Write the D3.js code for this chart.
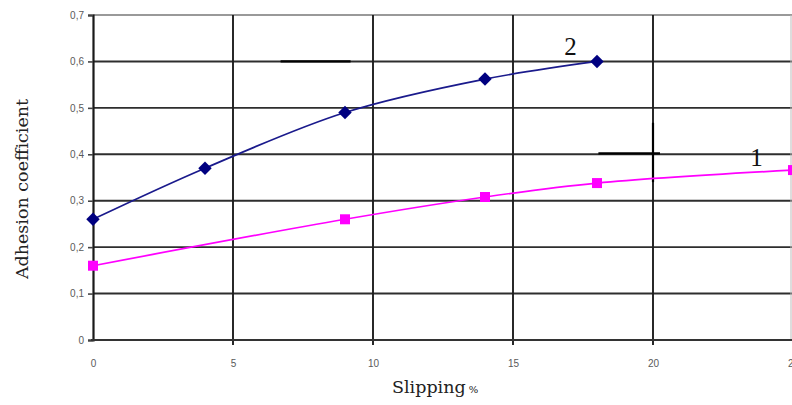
<!DOCTYPE html>
<html><head><meta charset="utf-8">
<script src="https://cdn.jsdelivr.net/npm/d3@7"></script>
<style>body{margin:0;background:#fff}svg{display:block}</style>
</head><body>
<svg id="c" width="792" height="405"></svg>
<script>
const xTicks = [0, 5, 10, 15, 20, 25];
const yTicks = [0, 0.1, 0.2, 0.3, 0.4, 0.5, 0.6, 0.7];
const slip2 = [0, 4, 9, 14, 18];
const adh2 = [0.26, 0.37, 0.49, 0.562, 0.60];
const slip1 = [0, 9, 14, 18, 25];
const adh1 = [0.16, 0.26, 0.308, 0.338, 0.366];
const seriesLabels = ["1", "2"];

const svg = d3.select("#c");
const x = d3.scaleLinear().domain([0, 25]).range([93, 793]);
const y = d3.scaleLinear().domain([0, 0.7]).range([340, 15]);
const fmt = d => d3.format(".1f")(d).replace(".", ",").replace(/^0,0$/, "0");

// horizontal grid
svg.append("g").selectAll("line").data(yTicks).join("line")
  .attr("x1", x(0)).attr("x2", 792)
  .attr("y1", d => y(d)).attr("y2", d => y(d))
  .attr("stroke", d => d === 0.7 ? "#999" : "#2e2e2e")
  .attr("stroke-width", d => d === 0.7 ? 2 : 1.9);
// vertical grid
svg.append("g").selectAll("line").data(xTicks.filter(d => d > 0 && d < 25)).join("line")
  .attr("x1", d => x(d)).attr("x2", d => x(d))
  .attr("y1", y(0.7)).attr("y2", y(0) + 5)
  .attr("stroke", "#1e1e1e").attr("stroke-width", 1.9);
// right border
svg.append("line").attr("x1", 791).attr("x2", 791).attr("y1", y(0.7)).attr("y2", y(0))
  .attr("stroke", "#bbb").attr("stroke-width", 1);

// axes
const yAxis = d3.axisLeft(y).tickValues(yTicks).tickSize(5).tickFormat(fmt);
const gy = svg.append("g").attr("transform", `translate(${x(0)},0)`).call(yAxis);
gy.select(".domain").attr("stroke", "#1a1a1a").attr("stroke-width", 2.2);
gy.selectAll(".tick line").attr("stroke", "#444").attr("stroke-width", 1.6);
gy.selectAll("text").attr("fill", "#5a5a5a").attr("font-family", "Liberation Sans, Arial, sans-serif")
  .attr("font-size", 10).attr("x", -9);

const xAxis = d3.axisBottom(x).tickValues(xTicks).tickSize(0).tickFormat(d => d);
const gx = svg.append("g").attr("transform", `translate(0,${y(0)})`).call(xAxis);
gx.select(".domain").remove();
gx.selectAll("text").attr("fill", "#5a5a5a").attr("font-family", "Liberation Sans, Arial, sans-serif")
  .attr("font-size", 10).attr("y", 20);
svg.append("line").attr("x1", x(0) - 2).attr("x2", 792).attr("y1", y(0)).attr("y2", y(0))
  .attr("stroke", "#333").attr("stroke-width", 2.2);

// extra black marks
const marks = [
  {x1: 6.7, x2: 9.2, y1: 0.6, y2: 0.6},
  {x1: 18.05, x2: 20.25, y1: 0.402, y2: 0.402},
  {x1: 20, x2: 20, y1: 0.468, y2: 0.34}
];
svg.append("g").selectAll("line").data(marks).join("line")
  .attr("x1", d => x(d.x1)).attr("x2", d => x(d.x2))
  .attr("y1", d => y(d.y1)).attr("y2", d => y(d.y2))
  .attr("stroke", "#000").attr("stroke-width", 2.2);

// lines
const line = d3.line().x(d => x(d[0])).y(d => y(d[1])).curve(d3.curveCatmullRom.alpha(0.5));
const d1 = slip1.map((s, i) => [s, adh1[i]]);
const d2 = slip2.map((s, i) => [s, adh2[i]]);
svg.append("path").attr("d", line(d1)).attr("fill", "none").attr("stroke", "#ff00ff").attr("stroke-width", 1.7);
svg.append("path").attr("d", line(d2)).attr("fill", "none").attr("stroke", "#1a1a8c").attr("stroke-width", 1.7);
svg.append("g").selectAll("rect").data(d1).join("rect")
  .attr("x", d => x(d[0]) - 5).attr("y", d => y(d[1]) - 5).attr("width", 10).attr("height", 10)
  .attr("fill", "#ff00ff");
svg.append("g").selectAll("path").data(d2).join("path")
  .attr("d", d3.symbol(d3.symbolDiamond2, 115))
  .attr("transform", d => `translate(${x(d[0])},${y(d[1])})`)
  .attr("fill", "#000080");

// series labels
svg.append("text").attr("x", x(17.05)).attr("y", y(0.613)).attr("text-anchor", "middle")
  .attr("font-family", "Liberation Serif, serif").attr("font-size", 25).attr("fill", "#111").text(seriesLabels[1]);
svg.append("text").attr("x", x(23.7)).attr("y", y(0.374)).attr("text-anchor", "middle")
  .attr("font-family", "Liberation Serif, serif").attr("font-size", 25).attr("fill", "#111").text(seriesLabels[0]);

// axis titles
svg.append("text").attr("transform", "translate(28,189) rotate(-90)").attr("text-anchor", "middle")
  .attr("font-family", "DejaVu Serif, serif").attr("font-size", 17.5).attr("fill", "#222").text("Adhesion coefficient");
const xt = svg.append("text").attr("x", 392).attr("y", 393)
  .attr("font-family", "DejaVu Serif, serif").attr("font-size", 17.5).attr("fill", "#222");
xt.append("tspan").text("Slipping");
xt.append("tspan").attr("font-size", 10).attr("dx", 3).text("%");
</script>
</body></html>
